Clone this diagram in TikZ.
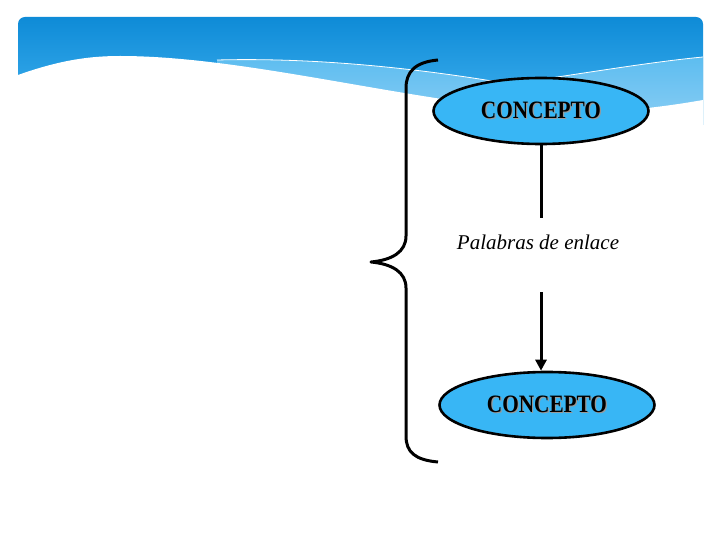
\documentclass[tikz,border=0pt]{standalone}
\usepackage{fontspec}
\setmainfont{Liberation Serif}
\usepackage{xcolor}
\usetikzlibrary{arrows.meta,shapes.geometric,calc}
\definecolor{headtop}{HTML}{0E8BD7}
\definecolor{headbot}{HTML}{45B4F1}
\definecolor{wavelight}{HTML}{8ACDF4}
\definecolor{wavemid}{HTML}{5DBDF0}
\definecolor{conceptfill}{HTML}{38B6F5}

\newcommand{\sombreado}[1]{\rlap{\kern1.3pt\raisebox{-1.3pt}{\color{black!40}#1}}#1}

\tikzset{
  concepto/.style={ellipse, draw=black, line width=2.6pt, fill=conceptfill,
    minimum width=215pt, minimum height=66pt, inner sep=0pt,
    font=\fontsize{25}{28}\selectfont\bfseries},
  enlacetxt/.style={font=\fontsize{21}{24}\selectfont\itshape, inner sep=0pt},
  link/.style={line width=3pt, draw=black},
}

\begin{document}
\begin{tikzpicture}[x=1pt, y=-1pt]
  \useasboundingbox (0,0) rectangle (720,540);
  \fill[white] (0,0) rectangle (720,540);

  % header band
  \begin{scope}
    \clip[rounded corners=7pt] (18,17) rectangle (703,160);
    \shade[top color=headtop, bottom color=headbot] (18,17) rectangle (703,125);
    \shade[top color=wavemid, bottom color=wavelight] (217,60) .. controls (330,57) and (440,72) .. (510,84)
      .. controls (580,74) and (650,62) .. (703,57) -- (703,125) -- (217,125) -- cycle;
    \draw[white, line width=0.8pt] (217,60) .. controls (330,57) and (440,72) .. (510,84)
      .. controls (580,74) and (650,62) .. (703,57);
    \fill[white] (18,75) .. controls (60,60) and (90,56) .. (120,56)
      .. controls (250,56) and (420,105) .. (560,112)
      .. controls (620,114) and (680,104) .. (703,100) -- (703,160) -- (18,160) -- cycle;
  \end{scope}

  % llave
  \draw[line width=3pt, line join=round] (438,60) .. controls (415,62) and (406,72) .. (406,88) -- (406,236)
    .. controls (406,252) and (392,260) .. (371,262)
    .. controls (392,264) and (406,272) .. (406,288) -- (406,436)
    .. controls (406,452) and (415,460) .. (438,462);

  % mapa
  \node[concepto] (c1) at (541,111) {\scalebox{0.85}[1]{\sombreado{CONCEPTO}}};
  \node[enlacetxt] (enlace) at (538,242) {Palabras de enlace};
  \node[concepto] (c2) at (547,405) {\scalebox{0.85}[1]{\sombreado{CONCEPTO}}};
  \coordinate (fin1) at (541,218);
  \coordinate (ini2) at (541,292);

  \draw[link] (c1) -- (fin1);
  \draw[link, -{Triangle[length=11pt,width=11pt]}] (ini2) -- (ini2 |- c2.north);
\end{tikzpicture}
\end{document}
